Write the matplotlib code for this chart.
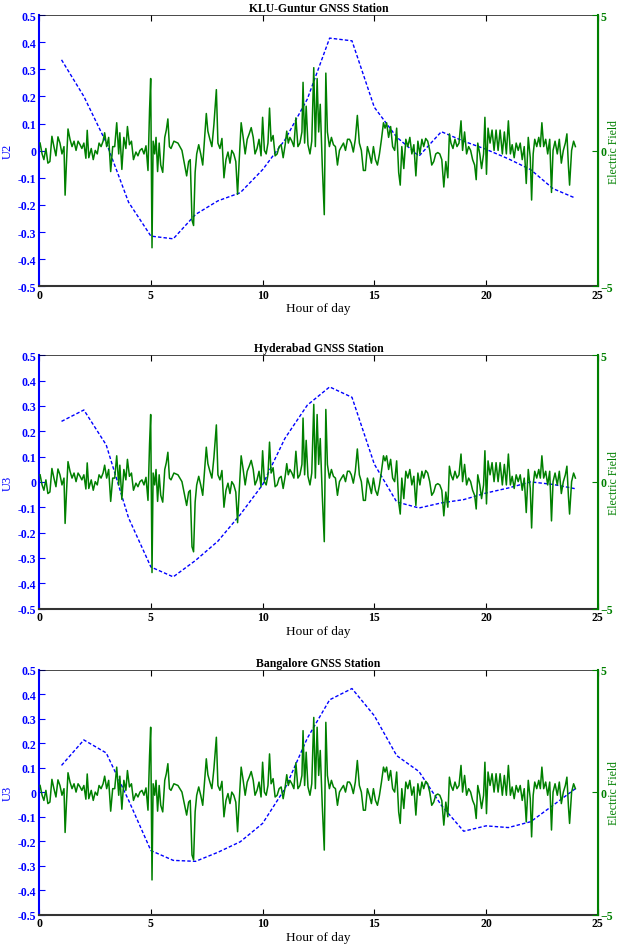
import numpy as np
import matplotlib
matplotlib.use("Agg")
import matplotlib.pyplot as plt

plt.rcParams['font.family'] = ['Liberation Serif', 'DejaVu Serif']

# hourly U values
hours = list(range(1, 25))
u_guntur = [0.335, 0.20, 0.03, -0.19, -0.315, -0.325, -0.235, -0.185, -0.155, -0.07,
            0.04, 0.19, 0.415, 0.405, 0.16, 0.05, -0.02, 0.07, 0.035, 0.005,
            -0.03, -0.07, -0.14, -0.175]
u_hyderabad = [0.239, 0.284, 0.146, -0.142, -0.336, -0.375, -0.31, -0.234, -0.129, -0.011,
               0.172, 0.303, 0.375, 0.334, 0.07, -0.079, -0.103, -0.083, -0.07, -0.044,
               -0.024, 0.0, -0.01, -0.027]
u_bangalore = [0.11, 0.214, 0.161, -0.032, -0.238, -0.278, -0.282, -0.245, -0.202, -0.127,
               0.015, 0.221, 0.378, 0.424, 0.313, 0.15, 0.085, -0.053, -0.159, -0.137,
               -0.144, -0.12, -0.053, 0.015]

# electric field trace (same in every panel)
ef_hour = [0.04, 0.13, 0.21, 0.3, 0.39, 0.48, 0.57, 0.66, 0.75, 0.84, 0.93, 1.02, 1.11, 1.16,
           1.23, 1.29, 1.38, 1.47, 1.56, 1.65, 1.74, 1.83, 1.91, 2.0, 2.09, 2.15, 2.22, 2.33,
           2.42, 2.51, 2.6, 2.68, 2.77, 2.86, 2.93, 3.02, 3.11, 3.2, 3.29, 3.38, 3.47, 3.56,
           3.61, 3.7, 3.79, 3.88, 3.95, 4.04, 4.13, 4.22, 4.33, 4.42, 4.51, 4.6, 4.69, 4.78,
           4.87, 4.94, 4.99, 5.05, 5.1, 5.17, 5.23, 5.3, 5.37, 5.44, 5.53, 5.62, 5.69, 5.76,
           5.83, 5.9, 6.03, 6.21, 6.39, 6.51, 6.6, 6.69, 6.76, 6.84, 6.91, 6.98, 7.05, 7.14,
           7.23, 7.32, 7.39, 7.48, 7.55, 7.64, 7.73, 7.82, 7.93, 8.0, 8.09, 8.18, 8.27, 8.36,
           8.45, 8.54, 8.62, 8.71, 8.8, 8.88, 8.95, 9.04, 9.13, 9.22, 9.31, 9.4, 9.49, 9.58,
           9.66, 9.75, 9.84, 9.93, 10.0, 10.08, 10.16, 10.24, 10.31, 10.38, 10.47, 10.56,
           10.65, 10.74, 10.83, 10.92, 11.01, 11.08, 11.15, 11.22, 11.31, 11.4, 11.49, 11.58,
           11.67, 11.76, 11.81, 11.88, 11.95, 12.03, 12.12, 12.2, 12.29, 12.36, 12.44, 12.51,
           12.58, 12.67, 12.76, 12.83, 12.9, 12.99, 13.08, 13.17, 13.26, 13.35, 13.44, 13.53,
           13.62, 13.71, 13.8, 13.89, 13.97, 14.06, 14.15, 14.24, 14.33, 14.42, 14.51, 14.6,
           14.69, 14.78, 14.87, 14.96, 15.05, 15.14, 15.23, 15.32, 15.41, 15.48, 15.55, 15.64,
           15.73, 15.82, 15.91, 16.0, 16.09, 16.16, 16.23, 16.32, 16.41, 16.5, 16.59, 16.68,
           16.77, 16.86, 16.95, 17.04, 17.13, 17.21, 17.3, 17.39, 17.48, 17.57, 17.66, 17.75,
           17.84, 17.93, 18.02, 18.11, 18.2, 18.29, 18.36, 18.43, 18.52, 18.61, 18.7, 18.79,
           18.88, 18.95, 19.04, 19.13, 19.22, 19.31, 19.4, 19.49, 19.56, 19.63, 19.72, 19.8,
           19.89, 19.95, 20.02, 20.09, 20.18, 20.27, 20.36, 20.45, 20.54, 20.63, 20.73, 20.82,
           20.91, 21.0, 21.09, 21.17, 21.26, 21.35, 21.44, 21.53, 21.62, 21.71, 21.8, 21.89,
           21.98, 22.04, 22.11, 22.18, 22.27, 22.36, 22.43, 22.5, 22.58, 22.67, 22.76, 22.85,
           22.93, 23.0, 23.09, 23.19, 23.28, 23.37, 23.46, 23.55, 23.62, 23.69, 23.74, 23.83,
           23.92, 24.0]
ef_val = [0.28, -0.12, -0.33, 0.08, -0.46, -0.4, 0.53, 0.15, -0.19, 0.51, 0.28, -0.12, 0.15, -1.64,
          -0.26, 0.8, 0.42, 0.15, 0.35, 0.01, 0.35, 0.22, 0.08, 0.28, -0.28, 0.75, -0.26, 0.08,
          -0.33, 0.01, -0.12, 0.28, 0.15, 0.35, 0.66, 0.15, 0.49, -0.77, 0.15, 0.15, 1.03, -0.12,
          0.66, -0.69, 0.49, 0.08, 0.89, 0.22, 0.35, -0.33, -0.05, -0.19, 0.01, 0.08, -0.12, 0.18,
          -0.73, 1.5, 2.66, -3.58, 0.35, -0.12, 0.49, -0.77, 0.28, -0.53, -0.8, 0.49, 0.76, 1.17,
          0.15, 0.08, 0.35, 0.28, 0.01, -0.53, -0.93, -0.4, -0.33, -2.56, -2.76, -0.8, -0.12, 0.22,
          -0.12, -0.53, 0.28, 1.37, 0.72, 0.42, 0.15, 0.96, 2.25, 0.28, 0.08, 0.45, -1.0, -0.33,
          -0.05, -0.46, 0.01, -0.12, -0.4, -1.61, -0.4, 1.03, 0.49, -0.12, 0.42, 0.62, 0.85, 0.49,
          -0.12, 0.08, 0.42, -0.19, 1.23, 0.01, -0.12, 0.28, 1.57, 0.35, 0.56, -0.19,
          -0.12, 0.15, 0.22, -0.26, 0.22, 0.72, 0.28, 0.49, 0.35, 0.15, 1.21, 0.15,
          0.28, 0.69, 2.52, 0.28, 1.64, 0.22, -0.12, 0.35, 3.06, 0.15, 2.66, 0.69,
          1.71, -0.53, -2.36, 2.86, 0.69, 0.15, 0.49, 0.22, 0.15, -0.53, 0.01, 0.15,
          0.28, 0.01, 0.42, 0.42, 0.28, -0.05, 0.42, 1.3, 0.28, 0.01, -0.73, -0.73,
          0.15, -0.12, -0.46, 0.15, -0.33, -0.53, -0.12, 0.42, 1.03, 0.83, 1.03, 0.49,
          0.89, 0.15, 0.01, 0.83, -0.8, -1.27, 0.15, -0.66, 0.42, 0.15, 0.49, -0.12,
          0.22, -0.93, 0.35, -0.12, 0.42, 0.15, 0.45, 0.35, 0.01, -0.53, -0.4, -0.12,
          -0.07, -0.12, -0.33, -1.34, -0.4, -1.0, 0.62, 0.28, 0.08, 0.42, 0.15, 0.28,
          1.1, 0.01, 0.69, -0.12, 0.15, 0.01, -0.33, -0.53, -1.07, 0.28, -0.12, -0.66,
          -0.12, 1.23, -0.87, 0.83, 0.28, 0.76, 0.01, 0.76, 0.01, 0.76, -0.12, 0.69,
          -0.12, 1.1, -0.12, 0.22, -0.26, 0.28, 0.01, 0.28, -0.33, 0.15, -1.21, 0.49,
          -0.26, -1.82, -0.12, 0.42, 0.15, 0.49, 0.15, 1.03, 0.15, 0.42, -0.12, 0.42,
          -1.54, 0.01, 0.35, -0.12, 0.42, -0.46, 0.01, 0.28, 0.62, -0.6, -1.27, 0.01,
          0.35, 0.15]

titles = ["KLU-Guntur GNSS Station", "Hyderabad GNSS Station", "Bangalore GNSS Station"]
ylabels = ["U2", "U3", "U3"]
series = [u_guntur, u_hyderabad, u_bangalore]
u_ticks = [-0.5, -0.4, -0.3, -0.2, -0.1, 0, 0.1, 0.2, 0.3, 0.4, 0.5]
u_ticklabels = ["-0.5", "-0.4", "-0.3", "-0.2", "-0.1", "0", "0.1", "0.2", "0.3", "0.4", "0.5"]

blue = (0, 0, 1)
green = (0, 0.5, 0)

fig = plt.figure(figsize=(6.22, 9.45), dpi=100)
boxes = [[0.063, 0.696, 0.898, 0.287],
         [0.063, 0.355, 0.898, 0.268],
         [0.063, 0.031, 0.898, 0.259]]

for box, title, ylab, u in zip(boxes, titles, ylabels, series):
    ax = fig.add_axes(box)
    ax.plot(hours, u, linestyle='--', color=blue, lw=1.0, dashes=(2.5, 1.5))
    ax.set_xlim(0, 25)
    ax.set_ylim(-0.5, 0.5)
    ax.set_xticks(np.arange(0, 26, 5))
    ax.set_yticks(u_ticks)
    ax.set_yticklabels(u_ticklabels)
    ax.tick_params(axis='y', colors=blue, direction='in', length=4, labelsize=8.5,
                   right=True, pad=2)
    ax.tick_params(axis='x', colors='black', direction='in', length=4, labelsize=8.5,
                   top=True, pad=2)
    for lab in ax.get_xticklabels() + ax.get_yticklabels():
        lab.set_fontweight('bold')
    ax.spines['left'].set_color(blue)
    ax.spines['left'].set_linewidth(1.5)
    ax.spines['bottom'].set_linewidth(1.5)
    ax.spines['bottom'].set_color('#333333')
    ax.spines['top'].set_linewidth(0.5)
    ax.set_title(title, fontsize=8.5, fontweight='bold', pad=3)
    ax.set_xlabel("Hour of day", fontsize=9.5, labelpad=1)
    ax.set_ylabel(ylab, color=blue, fontsize=9, labelpad=3)

    ax2 = ax.twinx()
    ax2.plot(ef_hour, ef_val, color=green, lw=1.1)
    ax2.set_ylim(-5, 5)
    ax2.set_yticks([-5, 0, 5])
    ax2.tick_params(axis='y', colors=green, direction='in', length=4, labelsize=8.5, pad=2)
    for lab in ax2.get_yticklabels():
        lab.set_fontweight('bold')
    ax2.spines['right'].set_color(green)
    ax2.spines['right'].set_linewidth(1.5)
    ax2.spines['left'].set_visible(False)
    ax2.spines['bottom'].set_visible(False)
    ax2.spines['top'].set_visible(False)
    ax2.set_ylabel("Electric Field", color=green, fontsize=8.5)
    ax2.yaxis.set_label_coords(1.019, 0.5)

fig.savefig("out.png", dpi=100)
